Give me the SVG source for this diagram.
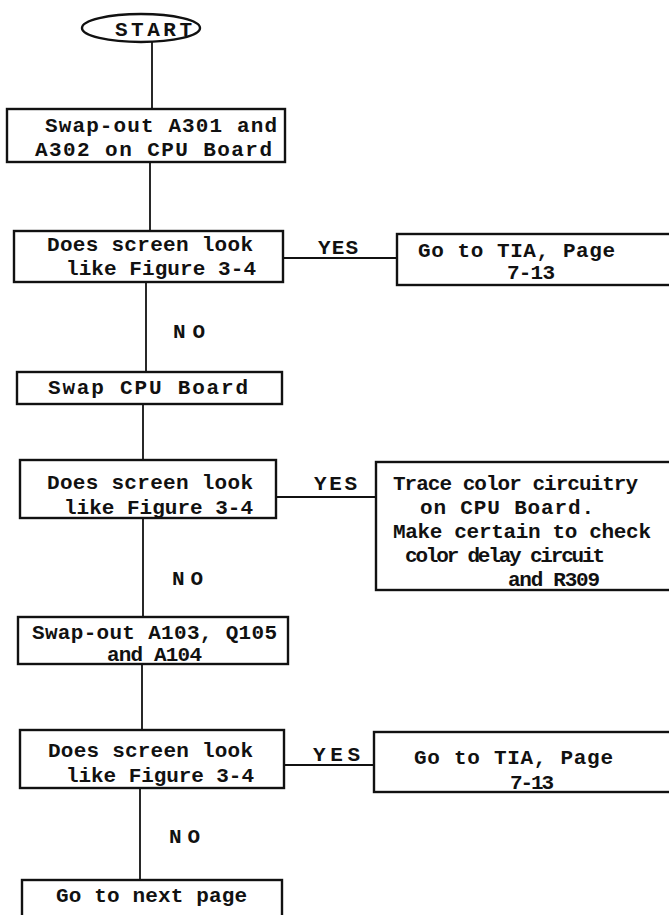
<svg xmlns="http://www.w3.org/2000/svg" width="669" height="915" viewBox="0 0 669 915">
<style>
  .bx{fill:#fff;stroke:#111;stroke-width:2.4}
  .cn{fill:none;stroke:#111;stroke-width:1.8}
  .t{font-family:"Liberation Mono","DejaVu Sans Mono",monospace;font-size:21px;font-weight:bold;fill:#111}
</style>
<rect width="669" height="915" fill="#fff"/>
<g id="connectors">
  <path class="cn" d="M152 42V109"/>
  <path class="cn" d="M150 162V231"/>
  <path class="cn" d="M283 258H397"/>
  <path class="cn" d="M146 282V372"/>
  <path class="cn" d="M143 404V460"/>
  <path class="cn" d="M276 497H376"/>
  <path class="cn" d="M143 518V617"/>
  <path class="cn" d="M142 664V730"/>
  <path class="cn" d="M284 765H374"/>
  <path class="cn" d="M140 788V880"/>
  <text class="t" x="318" y="254" textLength="40" lengthAdjust="spacing">YES</text>
  <text class="t" x="173" y="338" textLength="32" lengthAdjust="spacing">NO</text>
  <text class="t" x="314" y="490" textLength="43" lengthAdjust="spacing">YES</text>
  <text class="t" x="172" y="585" textLength="31" lengthAdjust="spacing">NO</text>
  <text class="t" x="313" y="761" textLength="47" lengthAdjust="spacing">YES</text>
  <text class="t" x="169" y="843" textLength="31" lengthAdjust="spacing">NO</text>
</g>
<g id="start">
  <ellipse cx="141" cy="28" rx="59" ry="14" fill="#fff" stroke="#111" stroke-width="2.4"/>
  <text class="t" x="115" y="36" textLength="77" lengthAdjust="spacing">START</text>
</g>
<g id="swap-a301">
  <rect class="bx" x="7" y="109" width="278" height="53"/>
  <text class="t" x="45" y="132" textLength="232" lengthAdjust="spacing">Swap-out A301 and</text>
  <text class="t" x="35" y="156" textLength="237" lengthAdjust="spacing">A302 on CPU Board</text>
</g>
<g id="check1">
  <rect class="bx" x="14" y="231" width="269" height="51"/>
  <text class="t" x="47" y="251" textLength="206" lengthAdjust="spacing">Does screen look</text>
  <text class="t" x="66" y="275" textLength="190" lengthAdjust="spacing">like Figure 3-4</text>
</g>
<g id="tia1">
  <rect class="bx" x="397" y="234" width="280" height="51"/>
  <text class="t" x="418" y="257" textLength="197" lengthAdjust="spacing">Go to TIA, Page</text>
  <text class="t" x="507" y="279" textLength="48" lengthAdjust="spacing">7-13</text>
</g>
<g id="swap-cpu">
  <rect class="bx" x="17" y="372" width="265" height="32"/>
  <text class="t" x="48" y="394" textLength="200" lengthAdjust="spacing">Swap CPU Board</text>
</g>
<g id="check2">
  <rect class="bx" x="20" y="460" width="256" height="58"/>
  <text class="t" x="47" y="489" textLength="206" lengthAdjust="spacing">Does screen look</text>
  <text class="t" x="64" y="514" textLength="189" lengthAdjust="spacing">like Figure 3-4</text>
</g>
<g id="trace">
  <rect class="bx" x="376" y="462" width="300" height="128"/>
  <text class="t" x="393" y="490" textLength="245" lengthAdjust="spacing">Trace color circuitry</text>
  <text class="t" x="420" y="514" textLength="174" lengthAdjust="spacing">on CPU Board.</text>
  <text class="t" x="393" y="538" textLength="258" lengthAdjust="spacing">Make certain to check</text>
  <text class="t" x="405" y="562" textLength="200" lengthAdjust="spacing">color delay circuit</text>
  <text class="t" x="508" y="586" textLength="92" lengthAdjust="spacing">and R309</text>
</g>
<g id="swap-a103">
  <rect class="bx" x="18" y="617" width="270" height="47"/>
  <text class="t" x="32" y="639" textLength="245" lengthAdjust="spacing">Swap-out A103, Q105</text>
  <text class="t" x="107" y="661" textLength="95" lengthAdjust="spacing">and A104</text>
</g>
<g id="check3">
  <rect class="bx" x="20" y="730" width="264" height="58"/>
  <text class="t" x="48" y="757" textLength="205" lengthAdjust="spacing">Does screen look</text>
  <text class="t" x="66" y="782" textLength="188" lengthAdjust="spacing">like Figure 3-4</text>
</g>
<g id="tia2">
  <rect class="bx" x="374" y="732" width="302" height="60"/>
  <text class="t" x="414" y="764" textLength="199" lengthAdjust="spacing">Go to TIA, Page</text>
  <text class="t" x="510" y="789" textLength="44" lengthAdjust="spacing">7-13</text>
</g>
<g id="next-page">
  <rect class="bx" x="22" y="880" width="260" height="40"/>
  <text class="t" x="56" y="902" textLength="191" lengthAdjust="spacing">Go to next page</text>
</g>
</svg>
